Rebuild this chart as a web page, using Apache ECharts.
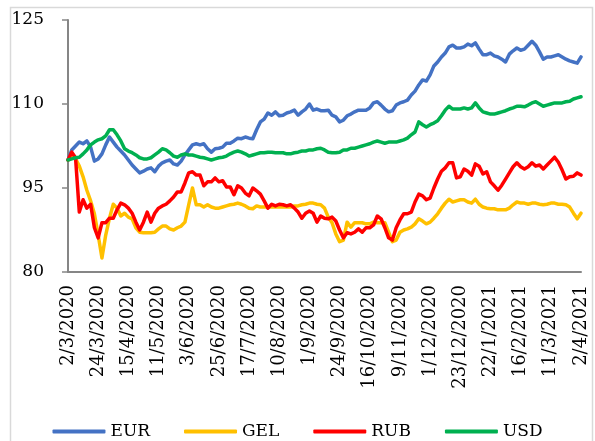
<!DOCTYPE html>
<html>
<head>
<meta charset="utf-8">
<script src="https://cdn.jsdelivr.net/npm/echarts@6.0.0/dist/echarts.min.js"></script>
<style>
  html, body { margin: 0; padding: 0; background: #fff; }
  #chart { width: 595px; height: 441px; }
</style>
</head>
<body>
<div id="chart"></div>
<script>
// one point every 2 trading days, a date label every 8 points
const tickLabels = ['2/3/2020', '24/3/2020', '15/4/2020', '11/5/2020', '3/6/2020', '25/6/2020',
  '17/7/2020', '10/8/2020', '1/9/2020', '24/9/2020', '16/10/2020', '9/11/2020', '1/12/2020',
  '23/12/2020', '22/1/2021', '16/2/2021', '11/3/2021', '2/4/2021'];
const pointsPerTick = 8;

const eur = [100.0, 101.8, 102.5, 103.2, 102.9, 103.4, 102.3, 99.8, 100.2, 101.1,
  102.7, 104.1, 103.2, 102.3, 101.6, 100.9, 100.0, 99.1, 98.4, 97.7,
  98.0, 98.4, 98.6, 97.9, 98.9, 99.5, 99.8, 100.0, 99.3, 99.1,
  99.8, 100.9, 101.8, 102.7, 102.9, 102.7, 102.9, 102.0, 101.4, 102.0,
  102.1, 102.3, 103.0, 103.0, 103.4, 103.9, 103.8, 104.1, 103.9, 103.8,
  105.4, 106.8, 107.3, 108.4, 108.0, 108.6, 107.9, 108.0, 108.4, 108.6,
  108.9, 108.0, 108.6, 109.1, 110.0, 108.9, 109.1, 108.8, 108.8, 108.9,
  108.0, 107.7, 106.8, 107.1, 107.9, 108.2, 108.6, 108.9, 108.9, 108.9,
  109.3, 110.2, 110.4, 109.8, 109.1, 108.6, 108.8, 109.8, 110.2, 110.4,
  110.7, 111.6, 112.3, 113.4, 114.3, 114.1, 115.2, 116.8, 117.5, 118.4,
  119.1, 120.2, 120.5, 120.0, 120.0, 120.2, 120.7, 120.4, 120.9, 119.8,
  118.8, 118.8, 119.1, 118.6, 118.4, 118.0, 117.5, 118.9, 119.5, 120.0,
  119.6, 119.8, 120.5, 121.2, 120.5, 119.3, 118.0, 118.4, 118.4, 118.6,
  118.8, 118.4, 118.0, 117.7, 117.5, 117.3, 118.4];

const gel = [100.0, 100.5, 100.2, 98.9, 97.0, 94.6, 92.7, 90.4, 86.6, 82.5,
  86.6, 89.6, 92.1, 91.4, 90.0, 90.5, 89.8, 89.5, 87.9, 87.1,
  87.0, 87.0, 87.0, 87.1, 87.7, 88.2, 88.2, 87.7, 87.5, 87.9,
  88.2, 88.9, 92.0, 95.0, 92.0, 92.0, 91.6, 92.0, 91.6, 91.4,
  91.4, 91.6, 91.8, 92.0, 92.1, 92.3, 92.1, 91.8, 91.4, 91.3,
  91.8, 91.6, 91.6, 91.6, 91.6, 91.6, 91.6, 91.6, 91.6, 91.6,
  91.8, 91.8, 92.0, 92.1, 92.3, 92.3, 92.1, 92.0, 91.4, 89.8,
  88.8, 86.8, 85.4, 85.7, 88.9, 88.0, 88.8, 88.8, 88.8, 88.6,
  88.6, 88.9, 88.8, 88.8, 88.8, 87.1, 85.4, 85.7, 87.1, 87.5,
  87.7, 88.0, 88.6, 89.5, 89.1, 88.6, 88.9, 89.6, 90.4, 91.4,
  92.3, 93.0, 92.5, 92.7, 92.9, 92.9, 92.5, 92.3, 93.0, 92.1,
  91.6, 91.4, 91.3, 91.3, 91.1, 91.1, 91.1, 91.4, 92.0, 92.5,
  92.3, 92.3, 92.1, 92.3, 92.3, 92.1, 92.0, 92.1, 92.3, 92.3,
  92.1, 92.1, 92.0, 91.6, 90.5, 89.5, 90.5];

const rub = [100.0, 101.4, 100.4, 90.7, 92.9, 91.4, 92.1, 87.9, 86.1, 88.8,
  88.8, 89.6, 89.6, 91.1, 92.3, 92.0, 91.4, 90.5, 88.9, 87.5,
  88.9, 90.7, 88.9, 90.5, 91.4, 91.8, 92.1, 92.7, 93.4, 94.3,
  94.3, 95.9, 97.7, 97.9, 97.3, 97.3, 95.4, 96.1, 96.1, 96.8,
  96.1, 96.3, 95.2, 95.2, 93.8, 95.4, 95.0, 94.1, 93.6, 95.0,
  94.5, 93.9, 92.7, 91.4, 92.1, 91.8, 92.1, 92.0, 91.8, 92.0,
  91.4, 90.7, 89.6, 90.5, 90.9, 90.5, 88.9, 90.0, 89.6, 89.5,
  89.8, 89.1, 87.5, 86.1, 87.0, 86.8, 87.1, 87.7, 87.1, 87.9,
  87.9, 88.4, 90.0, 89.5, 87.9, 86.1, 85.7, 87.9, 89.3, 90.4,
  90.4, 90.7, 92.5, 93.9, 93.6, 92.9, 93.2, 95.0, 96.6, 98.0,
  98.6, 99.5, 99.5, 96.8, 97.0, 98.4, 98.0, 97.3, 99.3, 98.9,
  97.5, 97.9, 96.1, 95.4, 94.6, 95.5, 96.6, 97.7, 98.8, 99.5,
  98.8, 98.4, 98.8, 99.5, 98.9, 99.1, 98.4, 99.1, 99.8, 100.5,
  99.6, 98.2, 96.6, 97.0, 97.1, 97.7, 97.3];

const usd = [100.0, 100.2, 100.4, 100.5, 101.1, 101.8, 102.7, 103.2, 103.6, 103.8,
  104.3, 105.4, 105.4, 104.5, 103.4, 102.0, 101.6, 101.3, 100.9, 100.4,
  100.2, 100.2, 100.4, 100.9, 101.4, 102.0, 101.8, 101.3, 100.7, 100.5,
  100.9, 101.1, 100.9, 100.9, 100.7, 100.5, 100.4, 100.2, 100.0, 100.2,
  100.4, 100.5, 100.7, 101.1, 101.4, 101.6, 101.4, 101.1, 100.7, 100.9,
  101.1, 101.3, 101.3, 101.4, 101.4, 101.3, 101.3, 101.3, 101.1, 101.1,
  101.3, 101.4, 101.6, 101.6, 101.8, 101.8, 102.0, 102.1, 101.8, 101.4,
  101.3, 101.3, 101.4, 101.8, 101.8, 102.1, 102.1, 102.3, 102.5, 102.7,
  102.9, 103.2, 103.4, 103.2, 103.0, 103.2, 103.2, 103.2, 103.4, 103.6,
  103.9, 104.5, 105.0, 106.8, 106.3, 105.9, 106.3, 106.6, 107.0, 107.9,
  108.9, 109.6, 109.1, 109.1, 109.1, 109.3, 109.1, 109.3, 110.2, 109.3,
  108.6, 108.4, 108.2, 108.2, 108.4, 108.6, 108.8, 109.1, 109.3, 109.6,
  109.6, 109.5, 109.8, 110.2, 110.4, 110.0, 109.6, 109.8, 110.0, 110.2,
  110.2, 110.2, 110.4, 110.5, 110.9, 111.1, 111.3];

const seriesNames = ['EUR', 'GEL', 'RUB', 'USD'];
const seriesColors = ['#4472C4', '#FFC000', '#FF0000', '#00B050'];
const yTicks = [80, 95, 110, 125];

const categories = eur.map((v, i) => String(i));
const font = 'DejaVu Serif';

const chart = echarts.init(document.getElementById('chart'));
chart.setOption({
  animation: false,
  backgroundColor: '#fff',
  graphic: [{
    type: 'rect',
    shape: { x: 10.5, y: 7.5, width: 582, height: 450 },
    style: { fill: 'none', stroke: '#d9d9d9', lineWidth: 1.5 },
    silent: true
  }],
  grid: { left: 68, right: 14, top: 20, bottom: 169 },
  legend: {
    top: 418,
    left: 'center',
    icon: 'roundRect',
    itemWidth: 53,
    itemHeight: 4,
    itemGap: 34,
    data: seriesNames,
    textStyle: { fontFamily: font, fontSize: 17, color: '#000' }
  },
  xAxis: {
    type: 'category',
    data: categories,
    boundaryGap: false,
    axisLine: { lineStyle: { color: '#868686', width: 2 } },
    axisTick: { show: false },
    axisLabel: {
      interval: pointsPerTick - 1,
      rotate: 90,
      margin: 13,
      fontFamily: font,
      fontSize: 18,
      color: '#000',
      formatter: (v, idx) => tickLabels[idx / pointsPerTick] || ''
    },
    splitLine: { show: false }
  },
  yAxis: {
    type: 'value',
    min: yTicks[0],
    max: yTicks[yTicks.length - 1],
    interval: 15,
    axisLine: { show: true, lineStyle: { color: '#868686', width: 2 } },
    axisTick: { show: true, length: 6, lineStyle: { color: '#868686', width: 1.5 } },
    axisLabel: { fontFamily: font, fontSize: 17, color: '#000', margin: 24 },
    splitLine: { show: false }
  },
  series: [eur, gel, rub, usd].map((d, k) => ({
    name: seriesNames[k],
    type: 'line',
    data: d,
    symbol: 'none',
    color: seriesColors[k],
    lineStyle: { width: 3.5, cap: 'round', join: 'round' }
  }))
});
</script>
</body>
</html>
